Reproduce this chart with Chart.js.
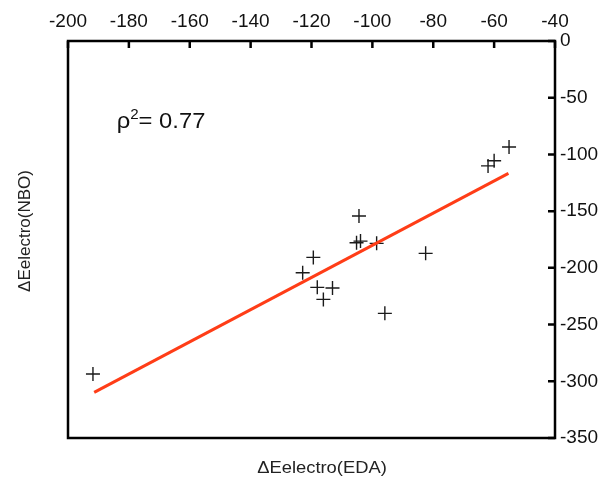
<!DOCTYPE html>
<html>
<head>
<meta charset="utf-8">
<script src="https://cdn.jsdelivr.net/npm/chart.js@4/dist/chart.umd.min.js"></script>
<style>
  html, body { margin: 0; padding: 0; background: #fff; }
  #wrap { width: 602px; height: 481px; }
</style>
</head>
<body>
<div id="wrap"><canvas id="c" width="602" height="481"></canvas></div>
<script>
// values
const edaX = [-191.8, -55.1, -60.0, -62.0, -104.4, -105.2, -103.9, -98.6, -82.5, -119.4, -122.9, -118.1, -113.1, -116.1, -95.9];
const nboY = [-293.6, -93.5, -105.6, -110.1, -154.3, -177.9, -176.4, -178.4, -187.2, -190.8, -204.3, -217.2, -217.8, -227.8, -240.1];
const fitX = [-191.4, -55.3];
const fitY = [-309.8, -116.7];
const xTicks = [-200, -180, -160, -140, -120, -100, -80, -60, -40];
const yTicks = [0, -50, -100, -150, -200, -250, -300, -350];
const rhoLabel = '0.77';

const FONT = '"Liberation Sans", Arial, sans-serif';

// text in the original is a little wider than tall
function wideText(ctx, txt, x, y, align) {
    ctx.save();
    ctx.translate(x, y);
    ctx.scale(1.08, 1);
    ctx.textAlign = align;
    ctx.fillText(txt, 0, 0);
    ctx.restore();
}

const frame = {
    id: 'frame',
    afterDraw(chart) {
        const { ctx, chartArea: a, scales } = chart;
        ctx.save();
        ctx.strokeStyle = '#000';
        ctx.lineWidth = 2.5;
        ctx.strokeRect(a.left, a.top, a.right - a.left, a.bottom - a.top);
        // inward ticks
        ctx.beginPath();
        xTicks.forEach(v => {
            const px = scales.x.getPixelForValue(v);
            ctx.moveTo(px, a.top);
            ctx.lineTo(px, a.top + 7);
        });
        yTicks.forEach(v => {
            const py = scales.y.getPixelForValue(v);
            ctx.moveTo(a.right, py);
            ctx.lineTo(a.right - 7, py);
        });
        ctx.stroke();

        // axis titles
        ctx.fillStyle = '#222';
        ctx.font = '17px ' + FONT;
        ctx.textBaseline = 'middle';
        wideText(ctx, '\u0394Eelectro(EDA)', 322, 468, 'center');
        ctx.save();
        ctx.translate(25, 231);
        ctx.rotate(-Math.PI / 2);
        ctx.textAlign = 'center';
        ctx.fillText('\u0394Eelectro(NBO)', 0, 0);
        ctx.restore();

        // rho^2 annotation
        const tx = scales.x.getPixelForValue(-184);
        const ty = scales.y.getPixelForValue(-70);
        ctx.textBaseline = 'alphabetic';
        ctx.fillStyle = '#111';
        ctx.save();
        ctx.translate(tx, ty + 8);
        ctx.scale(1.08, 1);
        ctx.textAlign = 'left';
        ctx.font = '22px ' + FONT;
        ctx.fillText('\u03C1', 0, 0);
        let w = ctx.measureText('\u03C1').width;
        ctx.font = '14px ' + FONT;
        ctx.fillText('2', w, -9);
        w += ctx.measureText('2').width;
        ctx.font = '22px ' + FONT;
        ctx.fillText('= ' + rhoLabel, w, 0);
        ctx.restore();
        ctx.restore();
    }
};

new Chart(document.getElementById('c'), {
    type: 'scatter',
    data: {
        datasets: [
            {
                type: 'line',
                data: fitX.map((x, i) => ({ x, y: fitY[i] })),
                borderColor: '#ff3d17',
                borderWidth: 3,
                pointRadius: 0,
                fill: false
            },
            {
                data: edaX.map((x, i) => ({ x, y: nboY[i] })),
                pointStyle: 'cross',
                pointRadius: 7,
                borderColor: '#1a1a1a',
                borderWidth: 1.4,
                backgroundColor: '#1a1a1a'
            }
        ]
    },
    options: {
        responsive: false,
        animation: false,
        layout: { padding: { left: 68, right: 0, top: 0, bottom: 43 } },
        plugins: { legend: { display: false }, tooltip: { enabled: false } },
        scales: {
            x: {
                type: 'linear',
                position: 'top',
                min: -200,
                max: -40,
                afterBuildTicks: s => { s.ticks = xTicks.map(v => ({ value: v })); },
                afterFit: s => { s.height = 41; },
                grid: { display: false, drawTicks: false },
                border: { display: false },
                ticks: { color: '#111', padding: 8, font: { family: FONT, size: 19 } }
            },
            y: {
                type: 'linear',
                position: 'right',
                min: -350,
                max: 0,
                afterBuildTicks: s => { s.ticks = yTicks.map(v => ({ value: v })); },
                afterFit: s => { s.width = 47; },
                grid: { display: false, drawTicks: false },
                border: { display: false },
                ticks: { color: '#111', padding: 5, font: { family: FONT, size: 19 } }
            }
        }
    },
    plugins: [frame]
});
</script>
</body>
</html>
